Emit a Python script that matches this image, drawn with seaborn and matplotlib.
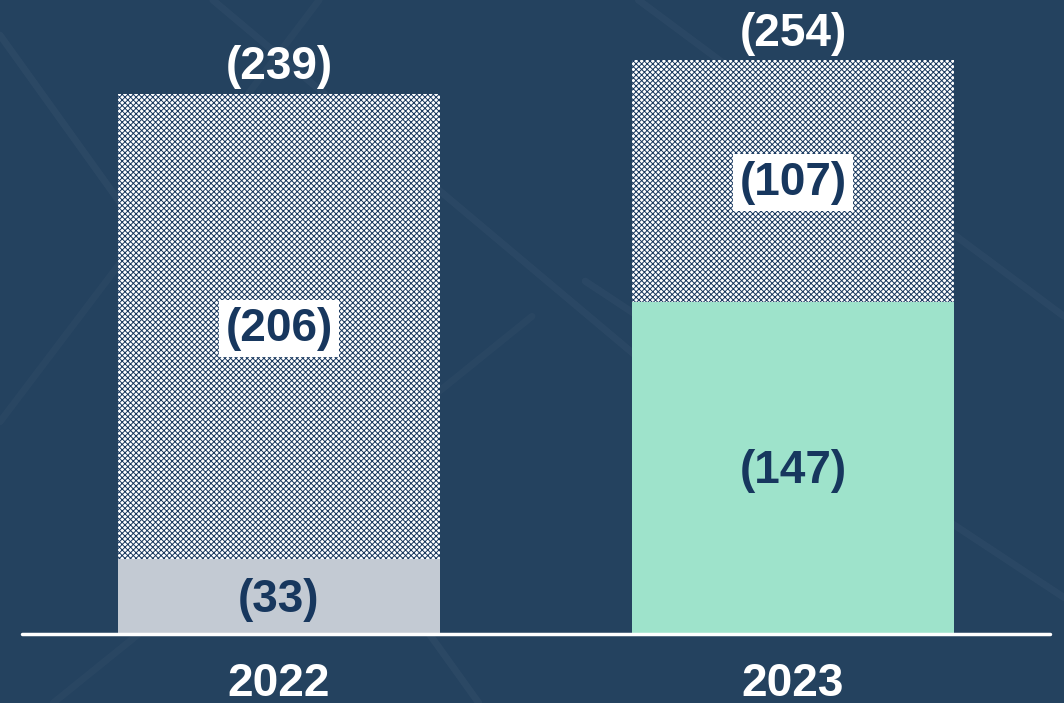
import matplotlib
matplotlib.use("Agg")
import matplotlib.pyplot as plt
import seaborn as sns
import pandas as pd
import numpy as np

years = ["2022", "2023"]
base_values = [33, 147]
hatched_values = [206, 107]
total_values = [239, 254]
base_colors = ["#c3cad3", "#9ee3cb"]

BG = "#24425f"
NAVY = "#17375e"

sns.set_theme(style="white")
plt.rcParams["font.family"] = ["Liberation Sans", "DejaVu Sans"]
plt.rcParams["hatch.linewidth"] = 0.7
plt.rcParams["hatch.color"] = NAVY

fig = plt.figure(figsize=(10.64, 7.03), dpi=100, facecolor=BG)

# faint background texture lines (decorative)
for (x0, y0, x1, y1, a) in [(0.0, 0.95, 0.45, 0.0, 0.035), (0.2, 1.0, 0.75, 0.3, 0.03),
                            (0.55, 0.6, 1.0, 0.15, 0.03), (0.0, 0.4, 0.3, 1.0, 0.025),
                            (0.6, 1.0, 1.0, 0.55, 0.03), (0.05, 0.0, 0.5, 0.55, 0.025)]:
    fig.add_artist(plt.Line2D([x0, x1], [y0, y1], transform=fig.transFigure,
                              color="white", alpha=a, lw=5, zorder=0))

ax = fig.add_axes([22/1064, 69/703, (1050-22)/1064, 634/703])
ax.set_facecolor("none")

df = pd.DataFrame({"year": years, "base": base_values,
                   "hatched": hatched_values, "total": total_values})

# full stack (hatched part shows above base)
sns.barplot(data=df, x="year", y="total", ax=ax, color="white", width=0.627,
            saturation=1, edgecolor="none", linewidth=0)
for p in ax.patches:
    p.set_hatch("x" * 6)
    p.set_facecolor("white")
    p.set_edgecolor(NAVY)
    p.set_linewidth(0)
sns.barplot(data=df, x="year", y="base", hue="year", palette=base_colors, ax=ax,
            width=0.627, saturation=1, legend=False, dodge=False, linewidth=0)

ax.set_xlim(-0.5, 1.5)
ax.set_ylim(0, 280.5)
for s in ax.spines.values():
    s.set_visible(False)
ax.axhline(0, color="white", lw=2.5, zorder=5, clip_on=False)
ax.set_yticks([])
ax.set_xlabel("")
ax.set_ylabel("")
ax.tick_params(axis="x", length=0, pad=20, labelsize=33, labelcolor="white")
for t in ax.get_xticklabels():
    t.set_fontweight("bold")

fs = 33
for i in range(len(years)):
    b = base_values[i]
    h = hatched_values[i]
    tot = total_values[i]
    ax.annotate(f"({b})", (i, b / 2), xytext=(0, -2.5), textcoords="offset points",
                ha="center", va="center", fontsize=fs,
                fontweight="bold", color=NAVY, zorder=6)
    ax.annotate(f"({h})", (i, b + h / 2), xytext=(0, -1.5), textcoords="offset points",
                ha="center", va="center", fontsize=fs,
                fontweight="bold", color=NAVY, zorder=6,
                bbox=dict(boxstyle="square,pad=0.14", facecolor="white", edgecolor="none"))
    ax.annotate(f"({tot})", (i, tot), xytext=(0, 19), textcoords="offset points",
                ha="center", va="center", fontsize=fs, fontweight="bold",
                color="white", zorder=6)

fig.savefig("out.png", dpi=100, facecolor=BG)
